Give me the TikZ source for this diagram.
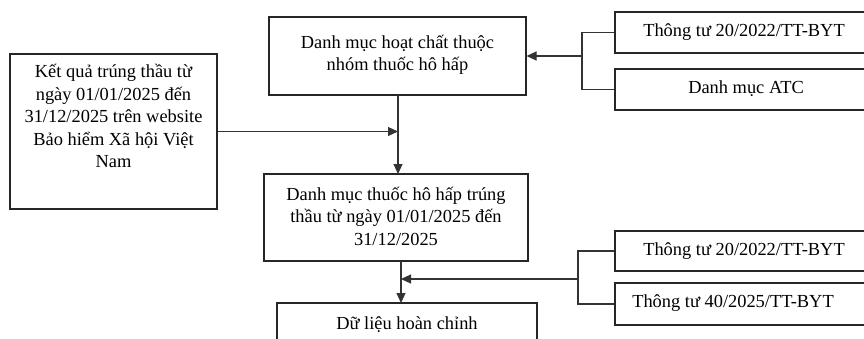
\documentclass[tikz,border=0pt]{standalone}
\usepackage{fontspec}
\setmainfont{Liberation Serif}
\usetikzlibrary{arrows.meta,calc}
\begin{document}
\begin{tikzpicture}[x=1pt,y=-1pt,
  box/.style={draw=black!85,line width=1.1pt,rectangle,inner sep=0pt},
  txt/.style={font=\fontsize{18.4}{22.5}\selectfont,align=center,inner sep=0pt},
  conn/.style={draw=black!80,line width=1.1pt},
  arr/.style={conn,-{Triangle[length=10pt,width=9pt]}}]
\useasboundingbox (0,0) rectangle (864,338);
\clip (0,0) rectangle (864,338);
% boxes
\node[box,minimum width=257pt,minimum height=78pt] (a) at (397.5,56) {};
\node[txt] (at) at (397.5,55) {Danh mục hoạt chất thuộc\\nhóm thuốc hô hấp};
\node[box,minimum width=207pt,minimum height=155pt] (k) at (113.5,131.5) {};
\node[txt,anchor=north] (kt) at (113.5,64) {Kết quả trúng thầu từ\\ngày 01/01/2025 đến\\31/12/2025 trên website\\Bảo hiểm Xã hội Việt\\Nam};
\node[box,minimum width=264pt,minimum height=87pt] (b) at (396,217.5) {};
\node[txt] (bt) at (396,216) {Danh mục thuốc hô hấp trúng\\thầu từ ngày 01/01/2025 đến\\31/12/2025};
\node[box,minimum width=260pt,minimum height=60pt] (c) at (407,333) {};
\node[txt] (ct) at (407,325) {Dữ liệu hoàn chỉnh};
\node[box,minimum width=260pt,minimum height=41pt] (t1) at (745,32.5) {};
\node[txt] (t1t) at (744,32) {Thông tư 20/2022/TT-BYT};
\node[box,minimum width=260pt,minimum height=41pt] (t2) at (745,89.5) {};
\node[txt] (t2t) at (746,89) {Danh mục ATC};
\node[box,minimum width=260pt,minimum height=40pt] (t3) at (745,251) {};
\node[txt] (t3t) at (744,251) {Thông tư 20/2022/TT-BYT};
\node[box,minimum width=260pt,minimum height=42pt] (t4) at (745,304) {};
\node[txt] (t4t) at (733,303) {Thông tư 40/2025/TT-BYT};
% connectors top right
\coordinate (br1) at (582,56);
\draw[conn] (t1.west) -| (br1) |- (t2.west);
\draw[arr] (br1) -- (a.east);
% main vertical
\coordinate (as) at (398,95);
\coordinate (bn) at (398,174);
\draw[arr] (as) -- (bn);
\coordinate (j1) at (as |- k.east);
\draw[arr] (k.east) -- (j1);
% bottom
\coordinate (bb) at (401,261);
\coordinate (cc) at (401,303);
\draw[arr] (bb) -- (cc);
\coordinate (br2) at (578,279);
\draw[conn] (t3.west) -| (br2) |- (t4.west);
\coordinate (j2) at (401,279);
\draw[arr] (br2) -- (j2);
\end{tikzpicture}
\end{document}
